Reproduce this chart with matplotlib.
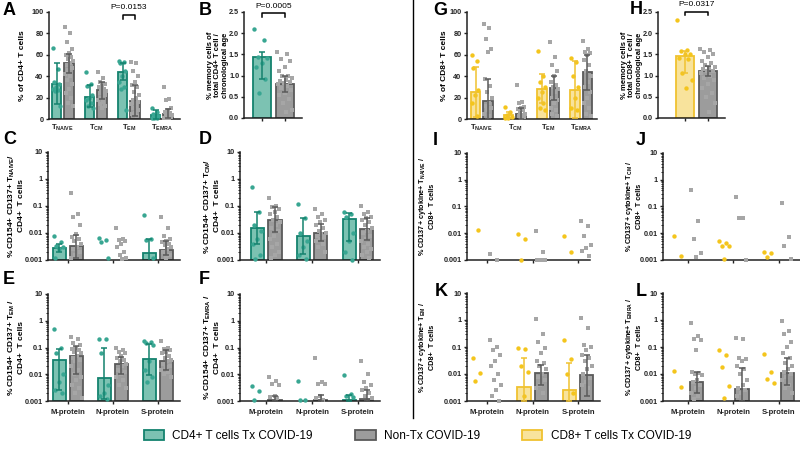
import numpy as np
import matplotlib.pyplot as plt
from matplotlib.patches import Patch
from matplotlib.lines import Line2D

nan = np.nan

plt.rcParams['font.family'] = ['Liberation Sans', 'DejaVu Sans']
plt.rcParams['font.weight'] = 'bold'
plt.rcParams['mathtext.fontset'] = 'custom'
plt.rcParams['mathtext.rm'] = 'Liberation Sans:bold'
plt.rcParams['mathtext.default'] = 'rm'

# ---- data ----
subsets = ['T$_{NAIVE}$', 'T$_{CM}$', 'T$_{EM}$', 'T$_{EMRA}$']
proteins = ['M-protein', 'N-protein', 'S-protein']

# A: CD4 subsets (% of CD4+ T cells)
a_tx_mean = [33, 21, 44, 4]
a_tx_lo = [14, 11, 36, 0]
a_tx_hi = [52, 32, 52, 8]
a_non_mean = [52, 27, 17, 5]
a_non_lo = [43, 19, 3, 1]
a_non_hi = [61, 35, 32, 9]
a_tx_pts = [[66, 47, 35, 33, 30, 28, 27, 26, 12],
            [44, 33, 31, 22, 20, 18, 15, 12, 10],
            [54, 53, 52, 45, 40, 35, 30, 28, 8],
            [10, 7, 5, 3, 2, 1, 1, 0.5]]
a_non_pts = [[86, 80, 72, 65, 62, 60, 58, 56, 54, 52, 50, 48, 46, 42, 40, 36, 33, 28, 24, 20, 15, 12],
             [44, 38, 35, 33, 31, 30, 28, 27, 26, 25, 24, 22, 20, 18, 16, 14, 12, 10],
             [53, 52, 45, 40, 35, 32, 30, 25, 22, 20, 18, 16, 15, 14, 12, 10, 8, 6, 5, 3],
             [30, 19, 18, 10, 8, 7, 6, 5, 4, 3, 3, 2, 2, 1, 1, 0.5]]

# B: memory CD4 / age
b_mean = [1.43, 0.81]
b_lo = [0.93, 0.62]
b_hi = [1.55, 0.98]
b_tx_pts = [2.1, 1.85, 1.45, 1.42, 1.3, 1.2, 0.92, 0.58]
b_non_pts = [1.55, 1.5, 1.4, 1.35, 1.2, 1.1, 1.0, 0.98, 0.95, 0.9, 0.88, 0.85,
             0.82, 0.8, 0.75, 0.7, 0.65, 0.6, 0.55, 0.45, 0.35, 0.2, 0.15]

# C: CD154+CD137+ TNAIVE / CD4+
c_tx_mean = [0.0028, nan, 0.0018]
c_tx_lo = [0.0019, nan, 0.0008]
c_tx_hi = [0.0038, nan, 0.006]
c_non_mean = [0.0032, nan, 0.0023]
c_non_lo = [0.0012, nan, 0.0015]
c_non_hi = [0.0085, nan, 0.005]
c_tx_pts = [[0.0075, 0.0045, 0.0033, 0.003, 0.0025, 0.0012],
            [0.0065, 0.0055, 0.0045, 0.0012],
            [0.045, 0.006, 0.0055, 0.0012]]
c_non_pts = [[0.3, 0.05, 0.04, 0.02, 0.009, 0.007, 0.006, 0.005, 0.004, 0.003, 0.0025, 0.002, 0.0015, 0.0012],
             [0.015, 0.006, 0.0055, 0.005, 0.004, 0.003, 0.002, 0.0015, 0.0012, 0.0011],
             [0.04, 0.015, 0.008, 0.006, 0.005, 0.0045, 0.004, 0.0035, 0.003, 0.0025, 0.002, 0.0015, 0.0012]]

# D: CD154+CD137+ TCM / CD4+
d_tx_mean = [0.015, 0.0078, 0.032]
d_tx_lo = [0.004, 0.0017, 0.005]
d_tx_hi = [0.06, 0.036, 0.055]
d_non_mean = [0.031, 0.0098, 0.014]
d_non_lo = [0.011, 0.005, 0.0055]
d_non_hi = [0.09, 0.022, 0.035]
d_tx_pts = [[0.5, 0.06, 0.02, 0.012, 0.006, 0.004, 0.0015, 0.0011],
            [0.12, 0.035, 0.01, 0.005, 0.003, 0.0015, 0.0011],
            [0.06, 0.05, 0.04, 0.01, 0.005, 0.002, 0.001]]
d_non_pts = [[0.2, 0.1, 0.09, 0.08, 0.06, 0.05, 0.04, 0.03, 0.025, 0.02, 0.015, 0.012, 0.008, 0.006, 0.004, 0.003, 0.002, 0.0015, 0.0012],
             [0.08, 0.05, 0.04, 0.03, 0.025, 0.02, 0.015, 0.012, 0.01, 0.009, 0.008, 0.007, 0.006, 0.005, 0.004, 0.003, 0.002],
             [0.1, 0.06, 0.05, 0.04, 0.035, 0.03, 0.025, 0.02, 0.015, 0.012, 0.01, 0.008, 0.006, 0.005, 0.004, 0.003, 0.0025, 0.002, 0.0015, 0.0012]]

# E: CD154+CD137+ TEM / CD4+
e_tx_mean = [0.035, 0.0075, 0.038]
e_tx_lo = [0.0025, 0.0012, 0.009]
e_tx_hi = [0.085, 0.1, 0.14]
e_non_mean = [0.05, 0.024, 0.03]
e_non_lo = [0.01, 0.01, 0.015]
e_non_hi = [0.11, 0.045, 0.08]
e_tx_pts = [[0.5, 0.1, 0.06, 0.01, 0.005, 0.0025, 0.002],
            [0.2, 0.2, 0.06, 0.004, 0.002, 0.0015, 0.0012],
            [0.17, 0.16, 0.15, 0.12, 0.03, 0.015, 0.008, 0.005]]
e_non_pts = [[0.25, 0.2, 0.15, 0.12, 0.1, 0.09, 0.08, 0.07, 0.06, 0.05, 0.04, 0.035, 0.03, 0.02, 0.015, 0.01, 0.008, 0.006, 0.004, 0.003, 0.002, 0.0013],
             [0.1, 0.08, 0.07, 0.06, 0.05, 0.04, 0.035, 0.03, 0.025, 0.02, 0.015, 0.012, 0.01, 0.008, 0.006, 0.004, 0.003],
             [0.17, 0.1, 0.09, 0.08, 0.07, 0.06, 0.05, 0.04, 0.035, 0.03, 0.025, 0.02, 0.018, 0.015, 0.012, 0.01, 0.008]]

# F: CD154+CD137+ TEMRA / CD4+
f_tx_mean = [nan, nan, 0.0011]
f_tx_lo = [nan, nan, 0.001]
f_tx_hi = [nan, nan, 0.0017]
f_non_mean = [0.0011, 0.0011, 0.0012]
f_non_lo = [0.001, 0.001, 0.001]
f_non_hi = [0.0016, 0.0017, 0.0026]
f_tx_pts = [[0.0035, 0.0023, 0.0011],
            [0.0055, 0.0011, 0.0011],
            [0.009, 0.0018, 0.0015, 0.0014]]
f_non_pts = [[0.008, 0.0055, 0.0045, 0.004, 0.0016, 0.0014, 0.0013],
             [0.04, 0.005, 0.0045, 0.0042, 0.0016, 0.0013, 0.0011],
             [0.03, 0.01, 0.005, 0.004, 0.003, 0.0025, 0.002, 0.0016, 0.0013]]

# G: CD8 subsets (% of CD8+ T cells)
g_tx_mean = [25, 4, 28, 27]
g_tx_lo = [2, 1, 15, 1]
g_tx_hi = [49, 7, 42, 54]
g_non_mean = [17, 5, 29, 44]
g_non_lo = [0, 0, 18, 27]
g_non_hi = [37, 10, 40, 60]
g_tx_pts = [[60, 54, 48, 27, 22, 15, 3],
            [11, 7, 4, 2, 1, 0.5],
            [64, 40, 35, 30, 25, 20, 15, 10, 8],
            [57, 53, 40, 30, 20, 10, 8]]
g_non_pts = [[89, 85, 75, 65, 63, 37, 31, 25, 20, 15, 12, 10, 8, 5, 3],
             [32, 16, 15, 11, 10, 9, 8, 6, 5, 4, 3, 2, 1],
             [72, 58, 50, 45, 40, 35, 32, 30, 28, 25, 20, 18, 15, 10, 8, 5, 3],
             [73, 65, 63, 62, 60, 55, 50, 45, 40, 35, 30, 25, 20, 15, 10, 5, 3]]

# H: memory CD8 / age
h_mean = [1.46, 1.12]
h_lo = [1.05, 1.0]
h_hi = [1.58, 1.22]
h_tx_pts = [2.3, 1.6, 1.58, 1.52, 1.5, 1.42, 1.38, 1.05, 0.9, 0.7]
h_non_pts = [1.63, 1.6, 1.55, 1.5, 1.45, 1.35, 1.3, 1.25, 1.2, 1.18, 1.15, 1.12,
             1.1, 1.05, 1.0, 0.95, 0.9, 0.8, 0.7, 0.6, 0.5, 0.35, 0.15]

# I: CD137+cytokine+ TNAIVE / CD8+
i_tx_pts = [[0.013], [0.0095, 0.0062, 0.001], [0.008, 0.002]]
i_non_pts = [[0.0017, 0.001],
             [0.012, 0.002, 0.001, 0.001, 0.001, 0.001],
             [0.028, 0.019, 0.008, 0.0035, 0.0027, 0.0022, 0.0014]]

# J: CD137+cytokine+ TCM / CD8+
j_tx_pts = [[0.0078, 0.0014], [0.0052, 0.0043, 0.0033, 0.0033, 0.0011], [0.002, 0.0018, 0.0013]]
j_non_pts = [[0.4, 0.028, 0.006, 0.0018, 0.0013],
             [0.22, 0.038, 0.038, 0.001],
             [0.14, 0.007, 0.0032, 0.0011]]

# K: CD137+cytokine+ TEM / CD8+
k_tx_mean = [nan, 0.0033, 0.0026]
k_tx_lo = [nan, 0.001, 0.001]
k_tx_hi = [nan, 0.038, 0.025]
k_non_mean = [nan, 0.011, 0.009]
k_non_lo = [nan, 0.004, 0.0015]
k_non_hi = [nan, 0.022, 0.05]
k_tx_pts = [[0.04, 0.011, 0.0055],
            [0.09, 0.085, 0.02, 0.012, 0.0015],
            [0.18, 0.035, 0.01, 0.002]]
k_non_pts = [[0.18, 0.1, 0.08, 0.05, 0.03, 0.02, 0.01, 0.006, 0.004, 0.0025, 0.0015, 0.001],
             [1.1, 0.3, 0.15, 0.09, 0.06, 0.03, 0.025, 0.02, 0.015, 0.01, 0.008, 0.006, 0.004, 0.003, 0.002],
             [1.2, 0.5, 0.12, 0.1, 0.08, 0.05, 0.04, 0.03, 0.02, 0.015, 0.01, 0.007, 0.005, 0.004, 0.003]]

# L: CD137+cytokine+ TEMRA / CD8+
l_non_mean = [0.005, 0.0027, 0.011]
l_non_lo = [0.002, 0.001, 0.004]
l_non_hi = [0.012, 0.017, 0.04]
l_tx_pts = [[0.013, 0.0033],
            [0.08, 0.05, 0.018, 0.0035, 0.0013],
            [0.055, 0.012, 0.0065, 0.0045]]
l_non_pts = [[0.8, 0.25, 0.2, 0.18, 0.08, 0.012, 0.011, 0.01, 0.009, 0.006, 0.005, 0.004, 0.003, 0.002, 0.0015, 0.0012],
             [0.22, 0.2, 0.04, 0.035, 0.03, 0.02, 0.015, 0.01, 0.006, 0.004, 0.003, 0.0025, 0.002, 0.0015],
             [0.95, 0.4, 0.3, 0.15, 0.1, 0.06, 0.04, 0.025, 0.02, 0.015, 0.012, 0.01, 0.008, 0.006, 0.004, 0.003, 0.002]]

legend_labels = ['CD4+ T cells Tx COVID-19', 'Non-Tx COVID-19', 'CD8+ T cells Tx COVID-19']

# ---- style ----
TEAL_EDGE, TEAL_FILL, TEAL_PT = '#14826e', '#7cc2b2', '#38a692'
GRAY_EDGE, GRAY_FILL, GRAY_PT = '#5a5a5a', '#9c9c9c', '#a6a6a6'
YEL_EDGE, YEL_FILL, YEL_PT = '#f0c230', '#f8e39c', '#f4c51c'
NONE3 = [nan, nan, nan]

W, H = 800, 455
fig = plt.figure(figsize=(8, 4.55), dpi=100)


def px_axes(l, r, t, b):
    return fig.add_axes([l / W, 1 - b / H, (r - l) / W, (b - t) / H])


def spread(n, width):
    # spread points across the bar width (fixed pattern)
    if n == 1:
        return np.zeros(1)
    k = np.arange(n)
    return ((k * 0.618) % 1 - 0.5) * width


def draw_groups(ax, centers, means, los, his, pts, fill, edge, ptcol, marker, base, bw):
    for x, m, lo, hi, p in zip(centers, means, los, his, pts):
        if not np.isnan(m):
            ax.bar(x, m - base, bottom=base, width=bw, color=fill, edgecolor=edge, lw=1.3, zorder=1)
        if len(p):
            ax.scatter(x + spread(len(p), bw * 0.85), p, s=10, marker=marker, color=ptcol,
                       lw=0, zorder=3, clip_on=False)
        if not np.isnan(m):
            ax.errorbar(x, m, yerr=[[m - lo], [hi - m]], fmt='none', ecolor=edge,
                        elinewidth=1.1, capsize=2, capthick=1.1, zorder=4)


def style(ax):
    for s in ['top', 'right']:
        ax.spines[s].set_visible(False)
    for s in ['left', 'bottom']:
        ax.spines[s].set_linewidth(1.1)
        ax.spines[s].set_color('#222222')
    ax.tick_params(which='major', length=2.5, width=1, labelsize=5.2, pad=1.5, colors='#222222')
    ax.tick_params(which='minor', length=1.3, width=0.6)


def ylabel_at(ax, text, xpx, l, r, size):
    # xpx = right edge of the rotated label, in pixels
    ax.set_ylabel(text, fontsize=size, fontweight='bold', linespacing=1.15)
    ax.yaxis.set_label_coords((xpx - l) / (r - l), 0.5)


def bracket(ax, x0, x1, y, leg, txt, ty):
    ax.plot([x0, x0, x1, x1], [y - leg, y, y, y - leg], color='black', lw=1.1, clip_on=False)
    ax.text((x0 + x1) / 2, ty, txt, ha='center', va='center', fontsize=6, fontweight='normal', clip_on=False)


def subset_panel(box, tx_mean, tx_lo, tx_hi, tx_pts, non_mean, non_lo, non_hi, non_pts,
                 cols, label, lab_x, xlim):
    l, r, t, b = box
    ax = px_axes(l, r, t, b)
    x = np.arange(len(subsets))
    draw_groups(ax, x - 0.19, tx_mean, tx_lo, tx_hi, tx_pts, cols[0], cols[1], cols[2], 'o', 0, 0.29)
    draw_groups(ax, x + 0.19, non_mean, non_lo, non_hi, non_pts, GRAY_FILL, GRAY_EDGE, GRAY_PT, 's', 0, 0.29)
    ax.set_ylim(0, 100)
    ax.set_yticks(np.arange(0, 101, 20))
    ax.set_xlim(*xlim)
    ax.set_xticks(x)
    ax.set_xticklabels(subsets)
    style(ax)
    ax.tick_params(axis='x', length=0, labelsize=5.5, pad=3)
    ylabel_at(ax, label, lab_x, l, r, 6)
    return ax


def ratio_panel(box, means, los, his, tx_pts, non_pts, cols, label, lab_x, xlim):
    l, r, t, b = box
    ax = px_axes(l, r, t, b)
    draw_groups(ax, [0], means[:1], los[:1], his[:1], [tx_pts], cols[0], cols[1], cols[2], 'o', 0, 0.78)
    draw_groups(ax, [1], means[1:], los[1:], his[1:], [non_pts], GRAY_FILL, GRAY_EDGE, GRAY_PT, 's', 0, 0.78)
    ax.set_ylim(0, 2.5)
    ax.set_yticks(np.arange(0, 2.51, 0.5))
    ax.set_yticklabels(['%.1f' % v for v in np.arange(0, 2.51, 0.5)])
    ax.set_xlim(*xlim)
    ax.set_xticks([0, 1])
    ax.set_xticklabels(['', ''])
    style(ax)
    ax.tick_params(axis='y', pad=1)
    ylabel_at(ax, label, lab_x, l, r, 5.5)
    return ax


def log_panel(box, tx_mean, tx_lo, tx_hi, tx_pts, non_mean, non_lo, non_hi, non_pts,
              cols, label, lab_x, xlim, show_x, lab_size):
    l, r, t, b = box
    ax = px_axes(l, r, t, b)
    ax.set_yscale('log')
    x = np.arange(len(proteins))
    draw_groups(ax, x - 0.19, tx_mean, tx_lo, tx_hi, tx_pts, cols[0], cols[1], cols[2], 'o', 0.001, 0.29)
    draw_groups(ax, x + 0.19, non_mean, non_lo, non_hi, non_pts, GRAY_FILL, GRAY_EDGE, GRAY_PT, 's', 0.001, 0.29)
    ax.set_ylim(0.001, 10)
    ax.set_yticks([0.001, 0.01, 0.1, 1, 10])
    ax.set_yticklabels(['0.001', '0.01', '0.1', '1', '10'])
    ax.set_xlim(*xlim)
    ax.set_xticks(x)
    ax.set_xticklabels(proteins if show_x else ['', '', ''])
    ax.minorticks_on()
    ax.xaxis.set_minor_locator(plt.NullLocator())
    style(ax)
    ax.tick_params(axis='x', labelsize=5.5, pad=3)
    ylabel_at(ax, label, lab_x, l, r, lab_size)
    return ax


teal = (TEAL_FILL, TEAL_EDGE, TEAL_PT)
yel = (YEL_FILL, YEL_EDGE, YEL_PT)

# left half: CD4
axA = subset_panel((49, 180, 12, 119), a_tx_mean, a_tx_lo, a_tx_hi, a_tx_pts,
                   a_non_mean, a_non_lo, a_non_hi, a_non_pts, teal,
                   '% of CD4+ T cells', 26, (-0.42, 3.55))
bracket(axA, 2 - 0.19, 2 + 0.19, 97, 3.5, 'P=0.0153', 104)

axB = ratio_panel((244, 302, 12, 118), b_mean, b_lo, b_hi, b_tx_pts, b_non_pts, teal,
                  '% memory cells of\ntotal CD4+ T cell /\nchronological age', 229, (-0.78, 1.74))
bracket(axB, 0, 1, 2.48, 0.09, 'P=0.0005', 2.62)

log_panel((48, 180, 152, 260), c_tx_mean, c_tx_lo, c_tx_hi, c_tx_pts,
          c_non_mean, c_non_lo, c_non_hi, c_non_pts, teal,
          '% CD154+ CD137+ T$_{NAIVE}$/\nCD4+  T cells', 25, (-0.44, 2.49), False, 6)
log_panel((240, 380, 152, 260), d_tx_mean, d_tx_lo, d_tx_hi, d_tx_pts,
          d_non_mean, d_non_lo, d_non_hi, d_non_pts, teal,
          '% CD154+ CD137+ T$_{CM}$/\nCD4+  T cells', 221, (-0.57, 2.48), False, 6)
log_panel((48, 180, 294, 401), e_tx_mean, e_tx_lo, e_tx_hi, e_tx_pts,
          e_non_mean, e_non_lo, e_non_hi, e_non_pts, teal,
          '% CD154+ CD137+ T$_{EM}$ /\nCD4+  T cells', 25, (-0.44, 2.49), True, 6)
log_panel((240, 380, 294, 401), f_tx_mean, f_tx_lo, f_tx_hi, f_tx_pts,
          f_non_mean, f_non_lo, f_non_hi, f_non_pts, teal,
          '% CD154+ CD137+ T$_{EMRA}$ /\nCD4+  T cells', 221, (-0.57, 2.48), True, 6)

# right half: CD8
axG = subset_panel((467, 597, 12, 119), g_tx_mean, g_tx_lo, g_tx_hi, g_tx_pts,
                   g_non_mean, g_non_lo, g_non_hi, g_non_pts, yel,
                   '% of CD8+ T cells', 448, (-0.45, 3.48))

axH = ratio_panel((658, 725, 12, 118), h_mean, h_lo, h_hi, h_tx_pts, h_non_pts, yel,
                  '% memory cells of\ntotal CD8+ T cell /\nchronological age', 643, (-1.17, 1.74))
bracket(axH, 0, 1, 2.5, 0.07, 'P=0.0317', 2.68)

log_panel((467, 590, 153, 260), NONE3, NONE3, NONE3, i_tx_pts,
          NONE3, NONE3, NONE3, i_non_pts, yel,
          '% CD137+ cytokine+ T$_{NAIVE}$ /\nCD8+  T cells', 436, (-0.44, 2.26), False, 5.2)
log_panel((663, 800, 153, 260), NONE3, NONE3, NONE3, j_tx_pts,
          NONE3, NONE3, NONE3, j_non_pts, yel,
          '% CD137+ cytokine+ T$_{CM}$ /\nCD8+  T cells', 643, (-0.55, 2.47), False, 5.2)
log_panel((467, 600, 293, 401), k_tx_mean, k_tx_lo, k_tx_hi, k_tx_pts,
          k_non_mean, k_non_lo, k_non_hi, k_non_pts, yel,
          '% CD137+ cytokine+ T$_{EM}$ /\nCD8+  T cells', 436, (-0.44, 2.48), True, 5.2)
log_panel((663, 800, 293, 401), NONE3, NONE3, NONE3, l_tx_pts,
          l_non_mean, l_non_lo, l_non_hi, l_non_pts, yel,
          '% CD137+ cytokine+ T$_{EMRA}$ /\nCD8+  T cells', 643, (-0.55, 2.47), True, 5.2)

# panel letters
for letter, (px, py) in {'A': (3, 2), 'B': (199, 2), 'C': (3, 131), 'D': (199, 131),
                         'E': (3, 271), 'F': (199, 271), 'G': (433, 2), 'H': (630, 1),
                         'I': (433, 132), 'J': (636, 132), 'K': (435, 283), 'L': (636, 283)}.items():
    fig.text(px / W, 1 - py / H, letter, fontsize=13, fontweight='bold', va='top', ha='left')

# divider between CD4 and CD8 halves
fig.add_artist(Line2D([413 / W, 413 / W], [1, 1 - 418 / H], color='black', lw=1))

handles = [Patch(facecolor=TEAL_FILL, edgecolor=TEAL_EDGE, lw=1.3),
           Patch(facecolor=GRAY_FILL, edgecolor=GRAY_EDGE, lw=1.3),
           Patch(facecolor=YEL_FILL, edgecolor=YEL_EDGE, lw=1.3)]
leg = fig.legend(handles, legend_labels, loc='center', bbox_to_anchor=(0.522, 1 - 436 / H),
                 ncol=3, frameon=False, fontsize=8.5, columnspacing=3.6, handlelength=1.7,
                 handleheight=0.9, handletextpad=0.7)
for t in leg.get_texts():
    t.set_fontweight('normal')

fig.savefig('out.png', dpi=100)
